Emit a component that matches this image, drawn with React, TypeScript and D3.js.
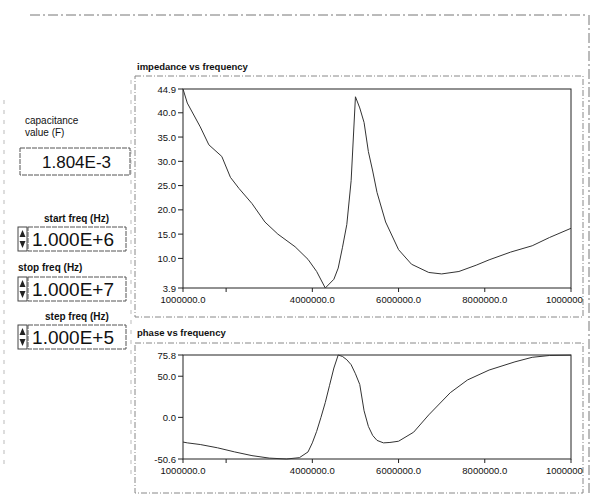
import React from "react";
import * as d3 from "d3";

// impedance vs frequency (Hz -> ohm)
const impFreq = [1.0e6, 1.1e6, 1.4e6, 1.6e6, 1.9e6, 2.1e6, 2.3e6, 2.6e6, 2.9e6, 3.2e6, 3.6e6, 3.9e6, 4.1e6, 4.3e6, 4.5e6, 4.6e6, 4.7e6, 4.8e6, 4.9e6, 5.0e6, 5.1e6, 5.2e6, 5.3e6, 5.4e6, 5.5e6, 5.7e6, 6.0e6, 6.3e6, 6.7e6, 7.0e6, 7.4e6, 7.8e6, 8.1e6, 8.6e6, 9.1e6, 9.5e6, 1.0e7];
const impValue = [44.9, 42.0, 37.1, 33.4, 31.0, 26.7, 24.4, 21.3, 17.5, 15.0, 12.4, 9.8, 7.3, 3.9, 5.7, 8.0, 12.3, 17.0, 26.0, 43.3, 41.0, 38.0, 32.0, 28.0, 23.6, 17.5, 11.8, 8.8, 7.1, 6.8, 7.3, 8.6, 9.7, 11.3, 12.6, 14.3, 16.2];

// phase vs frequency (Hz -> degrees)
const phaseFreq = [1.0e6, 1.1e6, 1.4e6, 1.8e6, 2.2e6, 2.6e6, 3.0e6, 3.4e6, 3.7e6, 3.9e6, 4.0e6, 4.1e6, 4.2e6, 4.3e6, 4.4e6, 4.5e6, 4.6e6, 4.7e6, 4.8e6, 4.9e6, 5.0e6, 5.1e6, 5.2e6, 5.3e6, 5.4e6, 5.5e6, 5.65e6, 5.8e6, 6.0e6, 6.35e6, 6.7e6, 7.2e6, 7.6e6, 8.1e6, 8.7e6, 9.1e6, 9.5e6, 1.0e7];
const phaseValue = [-30, -31, -33, -37, -42, -46.5, -49.5, -50.6, -49, -42, -31, -17, 0, 18, 39, 60, 75.8, 74, 70, 64, 53, 40, 8, -11, -22, -28, -31, -30.5, -29, -18, 3, 30, 45.5, 57.5, 67.5, 73, 75.2, 75.6];

const xTickValues = [1e6, 2e6, 4e6, 6e6, 8e6, 1e7];
const xTickLabels = ["1000000.0", "", "4000000.0", "6000000.0", "8000000.0", "10000000.0"];

const impYTicks = [44.9, 40, 35, 30, 25, 20, 15, 10, 3.9];
const impYLabels = ["44.9", "40.0", "35.0", "30.0", "25.0", "20.0", "15.0", "10.0", "3.9"];

const phaseYTicks = [75.8, 50, 0, -50.6];
const phaseYLabels = ["75.8", "50.0", "0.0", "-50.6"];

const graphTitles = ["impedance vs frequency", "phase vs frequency"];

const capLabelLines = ["capacitance", "value (F)"];
const capValue = "1.804E-3";
const freqLabels = ["start freq (Hz)", "stop freq (Hz)", "step freq (Hz)"];
const freqValues = ["1.000E+6", "1.000E+7", "1.000E+5"];

const FONT = "'Liberation Sans', Arial, sans-serif";

type GraphProps = {
  title: string;
  titleY: number;
  frame: [number, number, number, number];
  top: number;
  bottom: number;
  freq: number[];
  values: number[];
  yTicks: number[];
  yLabels: string[];
  clipId: string;
};

const PLOT_LEFT = 183;
const PLOT_RIGHT = 571;

function Graph(p: GraphProps) {
  const x = d3.scaleLinear().domain([1e6, 1e7]).range([PLOT_LEFT, PLOT_RIGHT]);
  const y = d3
    .scaleLinear()
    .domain([p.yTicks[p.yTicks.length - 1], p.yTicks[0]])
    .range([p.bottom, p.top]);
  const line = d3
    .line<number>()
    .x((_, i) => x(p.freq[i]))
    .y((v) => y(v));
  const [fx, fy, fw, fh] = p.frame;
  return (
    <g>
      <rect x={fx} y={fy} width={fw} height={fh} fill="none" stroke="#888" strokeWidth={1} strokeDasharray="6,2,1,2" />
      <clipPath id={p.clipId}>
        <rect x={fx} y={fy} width={fw} height={fh} />
      </clipPath>
      <text x={137} y={p.titleY} fontFamily={FONT} fontSize={9.5} fontWeight="bold" fill="#111">
        {p.title}
      </text>
      <rect
        x={PLOT_LEFT}
        y={p.top}
        width={PLOT_RIGHT - PLOT_LEFT}
        height={p.bottom - p.top}
        fill="#fff"
        stroke="#222"
        strokeWidth={1}
      />
      {p.yTicks.map((t, i) => (
        <g key={"y" + i}>
          <line x1={PLOT_LEFT - 5} x2={PLOT_LEFT} y1={y(t)} y2={y(t)} stroke="#222" />
          <text
            x={PLOT_LEFT - 7}
            y={y(t) + 3.5}
            textAnchor="end"
            fontFamily={FONT}
            fontSize={9.5}
            fill="#111"
          >
            {p.yLabels[i]}
          </text>
        </g>
      ))}
      {xTickValues.map((t, i) => (
        <g key={"x" + i} clipPath={`url(#${p.clipId})`}>
          <line x1={x(t)} x2={x(t)} y1={p.bottom} y2={p.bottom + 4} stroke="#222" />
          <text
            x={x(t)}
            y={p.bottom + 15}
            textAnchor="middle"
            fontFamily={FONT}
            fontSize={9.5}
            fill="#111"
          >
            {xTickLabels[i]}
          </text>
        </g>
      ))}
      <path d={line(p.values) || ""} fill="none" stroke="#333" strokeWidth={1} />
    </g>
  );
}

function NumBox({ y, w, h, value, incr, fontSize, textRight }: { y: number; w: number; h: number; value: string; incr: boolean; fontSize: number; textRight: number }) {
  const x0 = 18;
  return (
    <g>
      {incr && (
        <g>
          <rect x={x0} y={y} width={9} height={h} fill="#fff" stroke="#444" />
          <path d={`M${x0 + 1.5},${y + h / 2 - 2} L${x0 + 4.5},${y + 3} L${x0 + 7.5},${y + h / 2 - 2} Z`} fill="#222" />
          <path d={`M${x0 + 1.5},${y + h / 2 + 2} L${x0 + 4.5},${y + h - 3} L${x0 + 7.5},${y + h / 2 + 2} Z`} fill="#222" />
        </g>
      )}
      <rect x={incr ? x0 + 10 : x0 + 2} y={y} width={incr ? w - 10 : w - 2} height={h} fill="#fff" stroke="#555" strokeDasharray="5,1" />
      <text x={textRight} y={y + h / 2 + fontSize * 0.36} textAnchor="end" fontFamily={FONT} fontSize={fontSize} fill="#111">
        {value}
      </text>
    </g>
  );
}

export default function App() {
  const freqLabelPos = [
    { x: 44, y: 222 },
    { x: 18, y: 271 },
    { x: 45, y: 320 },
  ];
  const freqBoxY = [227, 277, 325];
  return (
    <svg width={596} height={495} style={{ position: "absolute", left: 0, top: 0, background: "#fff" }}>
      <rect x={0} y={0} width={596} height={495} fill="#fff" />
      {/* panel border */}
      <line x1={30} x2={588} y1={15} y2={15} stroke="#777" strokeDasharray="10,3,2,3" />
      <line x1={589} x2={589} y1={15} y2={495} stroke="#777" strokeDasharray="10,3,2,3" />
      <line x1={4} x2={4} y1={100} y2={470} stroke="#bbb" strokeDasharray="4,6" />
      <line x1={131} x2={131} y1={80} y2={480} stroke="#bbb" strokeDasharray="4,6" />

      <Graph
        title={graphTitles[0]}
        titleY={70}
        frame={[135, 76, 448, 241]}
        top={89}
        bottom={288}
        freq={impFreq}
        values={impValue}
        yTicks={impYTicks}
        yLabels={impYLabels}
        clipId="clipImp"
      />
      <Graph
        title={graphTitles[1]}
        titleY={336}
        frame={[135, 343, 448, 150]}
        top={355}
        bottom={459}
        freq={phaseFreq}
        values={phaseValue}
        yTicks={phaseYTicks}
        yLabels={phaseYLabels}
        clipId="clipPhase"
      />

      {/* controls */}
      {capLabelLines.map((t, i) => (
        <text key={t} x={25} y={124 + i * 12} fontFamily={FONT} fontSize={10} fill="#111">
          {t}
        </text>
      ))}
      <NumBox y={148} w={112} h={27} value={capValue} incr={false} fontSize={17} textRight={111} />
      {freqLabels.map((t, i) => (
        <g key={t}>
          <text x={freqLabelPos[i].x} y={freqLabelPos[i].y} fontFamily={FONT} fontSize={10} fontWeight="bold" fill="#111">
            {t}
          </text>
          <NumBox y={freqBoxY[i]} w={108} h={24} value={freqValues[i]} incr={true} fontSize={19} textRight={114} />
        </g>
      ))}
    </svg>
  );
}
